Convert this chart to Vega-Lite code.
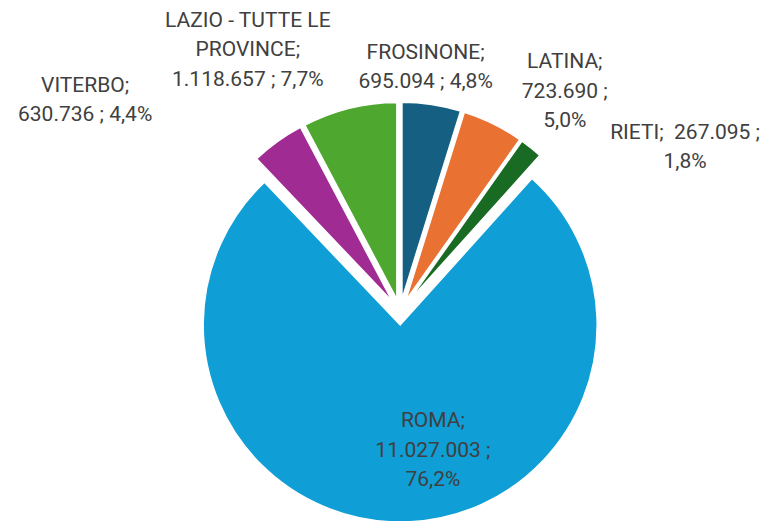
{
  "$schema": "https://vega.github.io/schema/vega-lite/v6.json",
  "width": 728,
  "height": 416,
  "autosize": "none",
  "padding": {"left": 36, "top": 104, "right": 0, "bottom": 1},
  "background": "white",
  "view": {"stroke": null},
  "data": {
    "values": [
      {"name": "FROSINONE", "value": 695094, "label": ["FROSINONE;", "695.094 ; 4,8%"]},
      {"name": "LATINA", "value": 723690, "label": ["LATINA;", "723.690 ;", "5,0%"]},
      {"name": "RIETI", "value": 267095, "label": ["RIETI;\u00a0 267.095 ;", "1,8%"]},
      {"name": "ROMA", "value": 11027003, "label": ["ROMA;", "11.027.003 ;", "76,2%"]},
      {"name": "VITERBO", "value": 630736, "label": ["VITERBO;", "630.736 ; 4,4%"]},
      {"name": "LAZIO - TUTTE LE PROVINCE", "value": 1118657, "label": ["LAZIO - TUTTE LE", "PROVINCE;", "1.118.657 ; 7,7%"]}
    ]
  },
  "transform": [
    {"window": [{"op": "row_number", "as": "idx"}]},
    {"joinaggregate": [{"op": "sum", "field": "value", "as": "total"}]}
  ],
  "encoding": {
    "theta": {"field": "value", "type": "quantitative", "stack": true},
    "order": {"field": "idx", "type": "quantitative"},
    "color": {
      "field": "name",
      "type": "nominal",
      "legend": null,
      "scale": {
        "domain": ["FROSINONE", "LATINA", "RIETI", "ROMA", "VITERBO", "LAZIO - TUTTE LE PROVINCE"],
        "range": ["#156082", "#E97132", "#196B24", "#0F9ED5", "#A02B93", "#4EA72E"]
      }
    }
  },
  "layer": [
    {
      "mark": {
        "type": "arc",
        "outerRadius": 197,
        "stroke": "white",
        "strokeWidth": 1.5,
        "xOffset": {"expr": "13*sin(PI*(datum.value_start+datum.value_end)/datum.total)"},
        "yOffset": {"expr": "-13*cos(PI*(datum.value_start+datum.value_end)/datum.total)"}
      }
    },
    {
      "mark": {
        "type": "text",
        "radius": {"expr": "datum.name === 'ROMA' ? 140 : 250"},
        "font": "Roboto",
        "fontSize": 21,
        "lineHeight": 29.5,
        "align": "center",
        "baseline": "middle",
        "dx": {"expr": "datum.name === 'FROSINONE' ? -12 : datum.name === 'LATINA' ? 54 : datum.name === 'RIETI' ? 129 : datum.name === 'ROMA' ? 31 : datum.name === 'VITERBO' ? -169 : -92"},
        "dy": {"expr": "datum.name === 'FROSINONE' ? -12 : datum.name === 'LATINA' ? -25.5 : datum.name === 'RIETI' ? 16 : datum.name === 'ROMA' ? -30.5 : datum.name === 'VITERBO' ? -23 : -48.5"}
      },
      "encoding": {
        "text": {"field": "label"},
        "color": {"value": "#404040"}
      }
    }
  ]
}
